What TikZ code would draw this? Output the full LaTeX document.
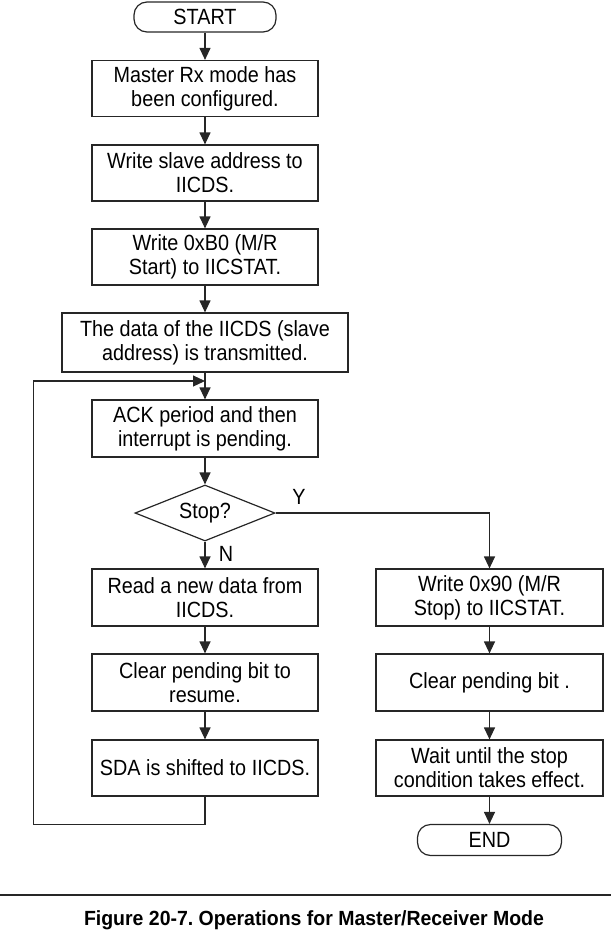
\documentclass[tikz,border=0pt]{standalone}
\usepackage{fontspec}
\setmainfont{Liberation Sans}[FakeStretch=0.9]
\newfontfamily\capfont{Liberation Sans}[FakeStretch=0.95]
\usetikzlibrary{shapes.geometric,arrows.meta}
\frenchspacing
\begin{document}
\begin{tikzpicture}[x=1pt,y=-1pt,
  every node/.style={font=\fontsize{22}{24}\selectfont},
  stepbox/.style={draw=black!85,line width=1.2pt,rectangle,inner sep=0pt,align=center,minimum width=226pt,minimum height=56pt},
  term/.style={draw=black!85,line width=1.2pt,rectangle,rounded corners=13pt,inner sep=0pt,minimum width=142pt,minimum height=30pt},
  dec/.style={draw=black!85,line width=1.2pt,diamond,aspect=2.5,inner sep=0pt,minimum width=140pt,minimum height=56pt},
  arr/.style={draw=black!85,line width=1.2pt,-{Triangle[length=12pt,width=11pt]}},
  lbl/.style={inner sep=0pt}
]
\useasboundingbox (0,0) rectangle (611,935);
\node[term] (start) at (205,17) {START};
\node[stepbox] (b1) at (205,88.5) {Master Rx mode has\\been configured.};
\node[stepbox] (b2) at (205,173) {Write slave address to\\IICDS.};
\node[stepbox] (b3) at (205,257) {Write 0xB0 (M/R\\Start) to IICSTAT.};
\node[stepbox,minimum width=286pt,minimum height=59pt] (b4) at (205,342.5) {The data of the IICDS (slave\\address) is transmitted.};
\node[stepbox,minimum height=57pt] (b5) at (205,428.5) {ACK period and then\\interrupt is pending.};
\node[dec] (d) at (205,513) {Stop?};
\node[stepbox,minimum height=57pt] (b6) at (205,597.5) {Read a new data from\\IICDS.};
\node[stepbox,minimum height=57pt] (b7) at (205,682.5) {Clear pending bit to\\resume.};
\node[stepbox] (b8) at (205,768) {SDA is shifted to IICDS.};
\node[stepbox,minimum width=227pt,minimum height=57pt] (r1) at (489.5,597.5) {Write 0x90 (M/R\\Stop) to IICSTAT.};
\node[stepbox,minimum width=227pt,minimum height=57pt] (r2) at (489.5,682.5) {Clear pending bit .};
\node[stepbox,minimum width=227pt] (r3) at (489.5,768) {Wait until the stop\\condition takes effect.};
\node[term,minimum width=144pt,minimum height=31pt] (end) at (489.5,840) {END};
\node[lbl] (ylbl) at (299,497) {Y};
\node[lbl] (nlbl) at (226,554) {N};
\coordinate (j) at (205,381);
\coordinate (lb) at (33.5,824.5);
\draw[arr] (start) -- (b1);
\draw[arr] (b1) -- (b2);
\draw[arr] (b2) -- (b3);
\draw[arr] (b3) -- (b4);
\draw[arr] (b4) -- (b5);
\draw[arr] (b5) -- (d);
\draw[arr] (d) -- (b6);
\draw[arr] (b6) -- (b7);
\draw[arr] (b7) -- (b8);
\draw[arr] (b8.south) |- (lb) |- (j);
\draw[arr] (d.east) -| (r1.north);
\draw[arr] (r1) -- (r2);
\draw[arr] (r2) -- (r3);
\draw[arr] (r3) -- (end);
\coordinate (rl) at (0,895);
\coordinate (rr) at (611,895);
\draw[line width=2pt,black!85] (rl) -- (rr);
\node[font=\capfont\bfseries\fontsize{20.5}{22}\selectfont] (cap) at (314,920) {Figure 20-7. Operations for Master/Receiver Mode};
\end{tikzpicture}
\end{document}
